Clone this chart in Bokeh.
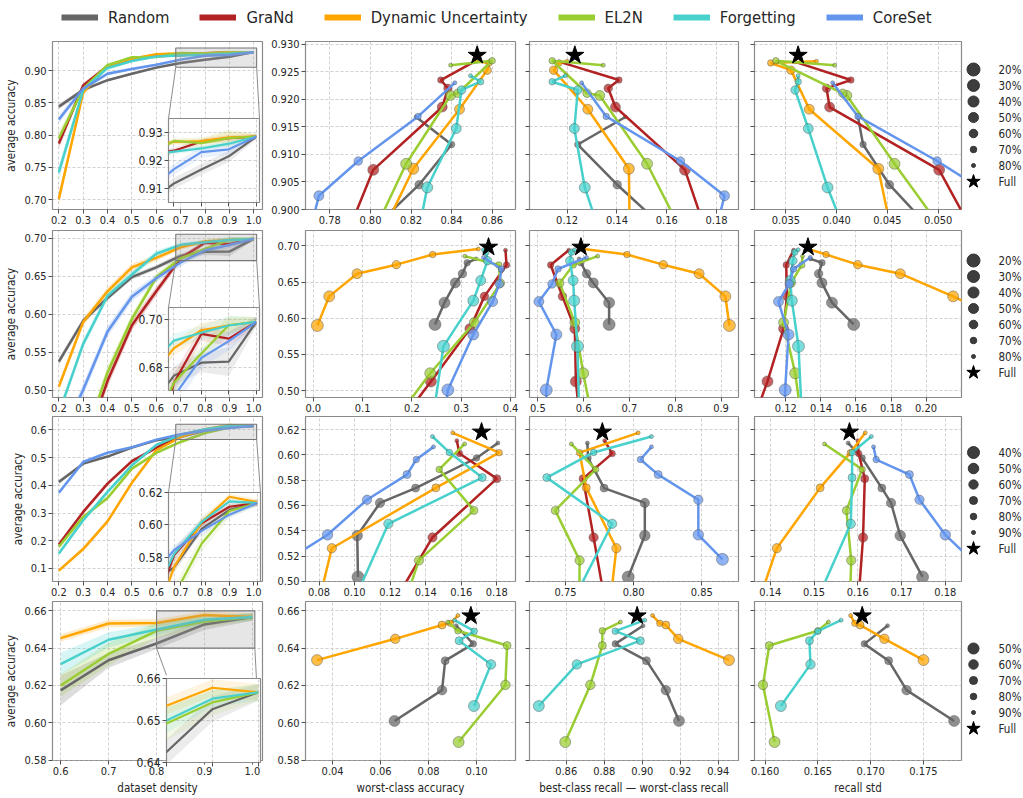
import numpy as np
from bokeh.plotting import figure
from bokeh.models import (Range1d, FixedTicker, PrintfTickFormatter, Legend, LegendItem,
                          GridBox, ColumnDataSource)
from bokeh.embed import file_html
from bokeh.resources import INLINE
from bokeh.core.properties import value

NAN = float("nan")
FONT = "DejaVu Sans Condensed, DejaVu Sans"

SERIES = ["Random", "GraNd", "Dynamic Uncertainty", "EL2N", "Forgetting", "CoreSet"]
SERIES_R4 = ["Random", "Dynamic Uncertainty", "EL2N", "Forgetting"]
COLORS = {"Random": "#666666", "GraNd": "#b22222", "Dynamic Uncertainty": "#ffa500",
          "EL2N": "#9acd32", "Forgetting": "#48d1cc", "CoreSet": "#6495ed"}

DENS_A = [0.2, 0.3, 0.4, 0.5, 0.6, 0.7, 0.8, 0.9, 1.0]
DENS_D = [0.6, 0.7, 0.8, 0.9, 1.0]

R1_CURVE = {
    "Random": [0.844, 0.870, 0.885, 0.895, 0.9045, 0.9118, 0.9168, 0.9215, 0.9285],
    "GraNd": [0.787, 0.877, 0.9072, 0.9186, 0.922, 0.9235, 0.9268, 0.928, 0.9285],
    "Dynamic Uncertainty": [0.701, 0.866, 0.9074, 0.9182, 0.9253, 0.9266, 0.9269, 0.9283, 0.9285],
    "EL2N": [0.795, 0.872, 0.9083, 0.9207, 0.9211, 0.927, 0.9262, 0.928, 0.9285],
    "Forgetting": [0.742, 0.870, 0.904, 0.9147, 0.9217, 0.9232, 0.9243, 0.926, 0.9285],
    "CoreSet": [0.824, 0.872, 0.895, 0.9025, 0.9088, 0.9169, 0.923, 0.924, 0.9285],
}
R1_STD = {
    "Random": [0.004, 0.003, 0.002, 0.002, 0.002, 0.002, 0.002, 0.002, 0.001],
    "GraNd": [0.008, 0.004, 0.002, 0.002, 0.001, 0.001, 0.001, 0.001, 0.001],
    "Dynamic Uncertainty": [0.010, 0.006, 0.003, 0.002, 0.001, 0.001, 0.001, 0.002, 0.001],
    "EL2N": [0.010, 0.004, 0.003, 0.002, 0.001, 0.001, 0.002, 0.003, 0.001],
    "Forgetting": [0.012, 0.004, 0.003, 0.002, 0.001, 0.001, 0.001, 0.001, 0.001],
    "CoreSet": [0.006, 0.004, 0.003, 0.002, 0.002, 0.002, 0.002, 0.002, 0.001],
}
R1_LABELS = ["20%", "30%", "40%", "50%", "60%", "70%", "80%"]
R1_SIZES = [13, 12, 11, 10, 8.5, 6.5, 4]
R1_ACC = {s: R1_CURVE[s][:7] for s in SERIES}
R1_WORST = {
    "Random": [0.77, 0.78, 0.79, 0.797, 0.824, 0.840, 0.8225],
    "GraNd": [0.74, 0.768, 0.8014, 0.8354, 0.8382, 0.8347, 0.851],
    "Dynamic Uncertainty": [0.70, 0.767, 0.8211, 0.8439, 0.8575, 0.8584, 0.852],
    "EL2N": [0.74, 0.771, 0.8176, 0.8395, 0.8431, 0.86, 0.8395],
    "Forgetting": [0.76, 0.81, 0.828, 0.8423, 0.8449, 0.8543, 0.8493],
    "CoreSet": [0.74, 0.755, 0.7695, 0.7746, 0.794, 0.8235, 0.8416],
}
R1_GAP = {
    "Random": [0.18, 0.175, 0.17, 0.163, 0.1401, 0.1243, 0.1434],
    "GraNd": [0.20, 0.19, 0.1673, 0.1394, 0.1365, 0.1408, 0.117],
    "Dynamic Uncertainty": [0.15, 0.146, 0.1448, 0.1283, 0.1146, 0.1167, 0.12],
    "EL2N": [0.20, 0.193, 0.1521, 0.1331, 0.128, 0.114, 0.1345],
    "Forgetting": [0.16, 0.152, 0.1271, 0.1229, 0.1243, 0.114, 0.1193],
    "CoreSet": [0.17, 0.175, 0.179, 0.1832, 0.1655, 0.1357, 0.1258],
}
R1_RSTD = {
    "Random": [0.056, 0.054, 0.052, 0.050, 0.0452, 0.0426, 0.0421],
    "GraNd": [0.065, 0.059, 0.0501, 0.0393, 0.039, 0.0414, 0.0359],
    "Dynamic Uncertainty": [0.055, 0.0488, 0.0441, 0.0373, 0.0355, 0.0335, 0.038],
    "EL2N": [0.065, 0.060, 0.0457, 0.041, 0.0406, 0.034, 0.0398],
    "Forgetting": [0.05, 0.0464, 0.0391, 0.0372, 0.0359, 0.0362, 0.0362],
    "CoreSet": [0.065, 0.062, 0.059, 0.0553, 0.0499, 0.0421, 0.0396],
}
R1_FULL = [0.928, 0.8526, 0.1231, 0.0362]

R2_CURVE = {
    "Random": [0.538, 0.5915, 0.6215, 0.6488, 0.6616, 0.6766, 0.682, 0.6824, 0.699],
    "GraNd": [0.33, 0.42, 0.5127, 0.5856, 0.6302, 0.6736, 0.694, 0.692, 0.699],
    "Dynamic Uncertainty": [0.505, 0.590, 0.6302, 0.6615, 0.674, 0.688, 0.6955, 0.6976, 0.699],
    "EL2N": [0.34, 0.43, 0.524, 0.594, 0.6485, 0.6736, 0.6858, 0.6976, 0.699],
    "Forgetting": [0.47, 0.5612, 0.6243, 0.6522, 0.6795, 0.6912, 0.6945, 0.6975, 0.699],
    "CoreSet": [0.43, 0.501, 0.5775, 0.623, 0.6474, 0.668, 0.684, 0.691, 0.699],
}
R2_STD = {
    "Random": [0.005, 0.004, 0.003, 0.003, 0.003, 0.004, 0.004, 0.006, 0.002],
    "GraNd": [0.008, 0.008, 0.008, 0.007, 0.006, 0.004, 0.003, 0.003, 0.002],
    "Dynamic Uncertainty": [0.006, 0.005, 0.005, 0.005, 0.004, 0.003, 0.003, 0.003, 0.002],
    "EL2N": [0.008, 0.008, 0.008, 0.006, 0.005, 0.004, 0.003, 0.004, 0.002],
    "Forgetting": [0.006, 0.006, 0.005, 0.005, 0.004, 0.003, 0.003, 0.004, 0.002],
    "CoreSet": [0.008, 0.008, 0.007, 0.006, 0.005, 0.005, 0.004, 0.004, 0.002],
}
R2_LABELS = ["20%", "30%", "40%", "50%", "60%", "70%", "80%"]
R2_SIZES = [13, 12, 11, 10, 8.5, 6.5, 4]
R2_ACC = {s: R2_CURVE[s][:7] for s in SERIES}
R2_WORST = {
    "Random": [NAN, 0.2467, 0.266, 0.288, 0.3024, 0.312, 0.33],
    "GraNd": [0.05, 0.136, 0.2385, 0.3175, 0.347, 0.3918, 0.3897],
    "Dynamic Uncertainty": [NAN, 0.0082, 0.0323, 0.0887, 0.1684, 0.242, 0.3347],
    "EL2N": [0.04, 0.134, 0.2371, 0.3265, 0.3794, 0.376, 0.3072],
    "Forgetting": [0.2443, 0.2639, 0.3244, 0.3395, 0.3533, 0.35, 0.345],
    "CoreSet": [0.26, 0.2729, 0.3244, 0.3636, 0.3773, 0.3814, 0.345],
}
R2_GAP = {
    "Random": [NAN, 0.6556, 0.6556, 0.6211, 0.6064, 0.594, 0.590],
    "GraNd": [0.61, 0.598, 0.583, 0.5807, 0.5536, 0.5279, 0.5675],
    "Dynamic Uncertainty": [NAN, 0.9183, 0.9095, 0.8523, 0.7738, 0.6945, 0.60],
    "EL2N": [0.66, 0.629, 0.599, 0.5807, 0.5477, 0.5771, 0.6306],
    "Forgetting": [0.59, 0.5866, 0.5793, 0.5771, 0.5697, 0.5734, 0.58],
    "CoreSet": [0.52, 0.5183, 0.5404, 0.5022, 0.5308, 0.544, 0.6064],
}
R2_RSTD = {
    "Random": [NAN, 0.1587, 0.1463, 0.1406, 0.1387, 0.1406, 0.134],
    "GraNd": [0.085, 0.0957, 0.1095, 0.1187, 0.1206, 0.1202, 0.1244],
    "Dynamic Uncertainty": [NAN, 0.25, 0.2154, 0.1853, 0.161, 0.1429, 0.133],
    "EL2N": [0.135, 0.1308, 0.1253, 0.1187, 0.123, 0.1291, 0.1295],
    "Forgetting": [0.129, 0.1272, 0.1234, 0.1225, 0.124, 0.125, 0.127],
    "CoreSet": [0.119, 0.1196, 0.1215, 0.1158, 0.1219, 0.1244, 0.1339],
}
R2_FULL = [0.6982, 0.3553, 0.594, 0.1326]

R3_CURVE = {
    "Random": [0.412, 0.478, 0.5035, 0.5362, 0.562, 0.5737, 0.5975, 0.6093, 0.6135],
    "GraNd": [0.186, 0.304, 0.406, 0.487, 0.5347, 0.5812, 0.601, 0.6112, 0.6135],
    "Dynamic Uncertainty": [0.092, 0.170, 0.27, 0.409, 0.5262, 0.5739, 0.6017, 0.6174, 0.614],
    "EL2N": [0.178, 0.286, 0.354, 0.46, 0.5166, 0.5561, 0.5885, 0.6086, 0.6135],
    "Forgetting": [0.154, 0.274, 0.376, 0.472, 0.5455, 0.582, 0.6019, 0.6145, 0.6135],
    "CoreSet": [0.373, 0.484, 0.5174, 0.5368, 0.5645, 0.5844, 0.5963, 0.6063, 0.6135],
}
R3_STD = {
    "Random": [0.008, 0.005, 0.004, 0.004, 0.003, 0.003, 0.002, 0.002, 0.002],
    "GraNd": [0.008, 0.008, 0.008, 0.007, 0.005, 0.004, 0.003, 0.002, 0.002],
    "Dynamic Uncertainty": [0.006, 0.008, 0.008, 0.007, 0.005, 0.004, 0.003, 0.002, 0.002],
    "EL2N": [0.008, 0.008, 0.008, 0.007, 0.006, 0.006, 0.005, 0.004, 0.002],
    "Forgetting": [0.008, 0.008, 0.008, 0.007, 0.005, 0.004, 0.003, 0.002, 0.002],
    "CoreSet": [0.008, 0.006, 0.005, 0.004, 0.003, 0.003, 0.003, 0.002, 0.002],
}
R3_LABELS = ["40%", "50%", "60%", "70%", "80%", "90%"]
R3_SIZES = [12, 10.5, 9.3, 8, 6.5, 4]
R3_ACC = {s: R3_CURVE[s][2:8] for s in SERIES}
R3_WORST = {
    "Random": [0.1019, 0.1015, 0.1143, 0.1343, 0.1686, 0.1806],
    "GraNd": [0.09, 0.1237, 0.1438, 0.18, 0.159, 0.1575],
    "Dynamic Uncertainty": [0.05, 0.067, 0.0872, 0.1457, 0.1813, 0.1552],
    "EL2N": [0.10, 0.1225, 0.1362, 0.1671, 0.1476, 0.1619],
    "Forgetting": [0.075, 0.0956, 0.119, 0.1718, 0.1533, 0.1438],
    "CoreSet": [0.063, 0.0848, 0.107, 0.1295, 0.1347, 0.1444],
}
R3_GAP = {
    "Random": [0.796, 0.8082, 0.8082, 0.7783, 0.7665, 0.766],
    "GraNd": [0.79, 0.7784, 0.7706, 0.7628, 0.7842, 0.7787],
    "Dynamic Uncertainty": [0.76, 0.775, 0.7873, 0.7652, 0.7603, 0.8033],
    "EL2N": [0.76, 0.76, 0.7603, 0.7424, 0.7721, 0.7542],
    "Forgetting": [0.72, 0.7495, 0.7842, 0.7362, 0.7706, 0.8131],
    "CoreSet": [0.8652, 0.8475, 0.8475, 0.818, 0.805, 0.8131],
}
R3_RSTD = {
    "Random": [0.1748, 0.1697, 0.1676, 0.1655, 0.161, 0.1578],
    "GraNd": [0.16, 0.1602, 0.1612, 0.1616, 0.1602, 0.16],
    "Dynamic Uncertainty": [0.12, 0.13, 0.1415, 0.1514, 0.1583, 0.1617],
    "EL2N": [0.158, 0.158, 0.1585, 0.1574, 0.161, 0.1524],
    "Forgetting": [0.14, 0.149, 0.1584, 0.1587, 0.1587, 0.1631],
    "CoreSet": [0.1859, 0.18, 0.1741, 0.1718, 0.1642, 0.1636],
}
R3_FULL = [0.618, 0.1714, 0.777, 0.1581]

R4_CURVE = {
    "Random": [0.6174, 0.6335, 0.6425, 0.6527, 0.6567],
    "Dynamic Uncertainty": [0.6454, 0.6532, 0.6535, 0.6578, 0.6567],
    "EL2N": [0.620, 0.6369, 0.6493, 0.6543, 0.6567],
    "Forgetting": [0.6315, 0.6445, 0.650, 0.6552, 0.6567],
}
R4_STD = {
    "Random": [0.008, 0.004, 0.003, 0.003, 0.002],
    "Dynamic Uncertainty": [0.002, 0.002, 0.002, 0.002, 0.002],
    "EL2N": [0.006, 0.006, 0.004, 0.003, 0.002],
    "Forgetting": [0.006, 0.004, 0.003, 0.002, 0.002],
}
R4_LABELS = ["50%", "60%", "70%", "80%", "90%"]
R4_SIZES = [11, 9.5, 8, 6.5, 4]
R4_ACC = {
    "Random": [0.601, 0.6175, 0.6333, 0.6423, 0.652],
    "Dynamic Uncertainty": [0.6336, 0.645, 0.6524, 0.6533, 0.6575],
    "EL2N": [0.5897, 0.6203, 0.6414, 0.6493, 0.654],
    "Forgetting": [0.609, 0.6313, 0.644, 0.6491, 0.655],
}
R4_WORST = {
    "Random": [0.0658, 0.0856, 0.0869, 0.0986, 0.0915],
    "Dynamic Uncertainty": [0.0335, 0.0661, 0.0856, 0.0891, 0.0922],
    "EL2N": [0.0925, 0.112, 0.1127, 0.0922, 0.088],
    "Forgetting": [0.0989, 0.106, 0.0927, 0.099, 0.0908],
}
R4_GAP = {
    "Random": [0.9193, 0.9124, 0.9022, 0.8858, 0.9004],
    "Dynamic Uncertainty": [0.9456, 0.9189, 0.9124, 0.9092, 0.9054],
    "EL2N": [0.8595, 0.8727, 0.879, 0.879, 0.8885],
    "Forgetting": [0.8456, 0.8656, 0.899, 0.8858, 0.9013],
}
R4_RSTD = {
    "Random": [0.1779, 0.1734, 0.1717, 0.1694, 0.1716],
    "Dynamic Uncertainty": [0.175, 0.1713, 0.169, 0.1685, 0.1681],
    "EL2N": [0.1609, 0.1598, 0.1604, 0.165, 0.166],
    "Forgetting": [0.1615, 0.1643, 0.1642, 0.165, 0.1672],
}
R4_FULL = [0.6573, 0.0976, 0.8973, 0.1692]

Y_LABEL = "average accuracy"
X_LABELS = ["dataset density", "worst-class accuracy",
            "best-class recall \u2014 worst-class recall", "recall std"]
FULL_LABEL = "Full"

DENS_TICKS = [0.2, 0.3, 0.4, 0.5, 0.6, 0.7, 0.8, 0.9, 1.0]
XTICKS = [
    [DENS_TICKS, [0.78, 0.80, 0.82, 0.84, 0.86], [0.12, 0.14, 0.16, 0.18], [0.035, 0.040, 0.045, 0.050]],
    [DENS_TICKS, [0.0, 0.1, 0.2, 0.3, 0.4], [0.5, 0.6, 0.7, 0.8, 0.9], [0.12, 0.14, 0.16, 0.18, 0.20]],
    [DENS_TICKS, [0.08, 0.10, 0.12, 0.14, 0.16, 0.18], [0.75, 0.80, 0.85], [0.14, 0.15, 0.16, 0.17, 0.18]],
    [[0.6, 0.7, 0.8, 0.9, 1.0], [0.04, 0.06, 0.08, 0.10], [0.86, 0.88, 0.90, 0.92, 0.94], [0.160, 0.165, 0.170, 0.175]],
]
XFMT = [["%.1f", "%.2f", "%.2f", "%.3f"], ["%.1f", "%.1f", "%.1f", "%.2f"],
        ["%.1f", "%.2f", "%.2f", "%.2f"], ["%.1f", "%.2f", "%.2f", "%.3f"]]
YTICKS = [
    [[0.70, 0.75, 0.80, 0.85, 0.90], [0.900, 0.905, 0.910, 0.915, 0.920, 0.925, 0.930]],
    [[0.50, 0.55, 0.60, 0.65, 0.70], [0.50, 0.55, 0.60, 0.65, 0.70]],
    [[0.1, 0.2, 0.3, 0.4, 0.5, 0.6], [0.50, 0.52, 0.54, 0.56, 0.58, 0.60, 0.62]],
    [[0.58, 0.60, 0.62, 0.64, 0.66], [0.58, 0.60, 0.62, 0.64, 0.66]],
]
YFMT = [["%.2f", "%.3f"], ["%.2f", "%.2f"], ["%.1f", "%.2f"], ["%.2f", "%.2f"]]

# ---------------- layout: every figure shares one full-page canvas ----------------
CANVAS_W, CANVAS_H = 1022, 797
FRAME_LEFT = [52, 305, 529, 754]
FRAME_WIDTH = [210, 210, 209, 207]
FRAME_TOP = [41, 230, 416, 601]
FRAME_HEIGHT = [168, 167, 165, 166]
XR = [
    [(0.174, 1.036), (0.768, 0.8715), (0.1049, 0.1888), (0.0319, 0.0523)],
    [(0.174, 1.036), (-0.0158, 0.410), (0.4817, 0.9382), (0.1021, 0.2202)],
    [(0.174, 1.036), (0.0724, 0.1905), (0.7235, 0.877), (0.1364, 0.1837)],
    [(0.583, 1.021), (0.0287, 0.1162), (0.8407, 0.9506), (0.159, 0.1786)],
]
YR = [
    [(0.6845, 0.945), (0.9, 0.9305)],
    [(0.4908, 0.710), (0.4905, 0.7212)],
    [(0.053, 0.648), (0.4999, 0.6303)],
    [(0.5798, 0.665), (0.5798, 0.665)],
]
INSETS = [
    dict(fl=168, ft=118, fw=91, fh=84, xr=(0.68, 1.012), yr=(0.905, 0.935), yt=[0.91, 0.92, 0.93], xt=[0.7, 0.8, 0.9, 1.0], right="UR"),
    dict(fl=168, ft=307, fw=91, fh=83, xr=(0.68, 1.012), yr=(0.6704, 0.705), yt=[0.68, 0.70], xt=[0.7, 0.8, 0.9, 1.0], right="UR"),
    dict(fl=168, ft=492, fw=92, fh=89, xr=(0.68, 1.012), yr=(0.565, 0.62), yt=[0.58, 0.60, 0.62], xt=[0.7, 0.8, 0.9, 1.0], right="UR"),
    dict(fl=166, ft=678, fw=94, fh=84, xr=(0.8, 1.005), yr=(0.64, 0.66), yt=[0.64, 0.65, 0.66], xt=[0.8, 0.9, 1.0], right="LR"),
]
SIZE_LEG_LEFT, SIZE_LEG_WIDTH, SIZE_LEG_STEP = 961, 61, 16
SIZE_LEG_TOP = [61, 252, 444, 640]
TOP_LEG_LEFT, TOP_LEG_TOP = 61, 7

ROWS = [
    dict(series=SERIES, dens=DENS_A, curve=R1_CURVE, std=R1_STD, acc=R1_ACC, metrics=[R1_WORST, R1_GAP, R1_RSTD], full=R1_FULL, labels=R1_LABELS, sizes=R1_SIZES),
    dict(series=SERIES, dens=DENS_A, curve=R2_CURVE, std=R2_STD, acc=R2_ACC, metrics=[R2_WORST, R2_GAP, R2_RSTD], full=R2_FULL, labels=R2_LABELS, sizes=R2_SIZES),
    dict(series=SERIES, dens=DENS_A, curve=R3_CURVE, std=R3_STD, acc=R3_ACC, metrics=[R3_WORST, R3_GAP, R3_RSTD], full=R3_FULL, labels=R3_LABELS, sizes=R3_SIZES),
    dict(series=SERIES_R4, dens=DENS_D, curve=R4_CURVE, std=R4_STD, acc=R4_ACC, metrics=[R4_WORST, R4_GAP, R4_RSTD], full=R4_FULL, labels=R4_LABELS, sizes=R4_SIZES),
]

FRAME_COLOR = "#8a8a8a"
TEXT_COLOR = "#262626"
GRID_COLOR = "#c4c4c4"


def style_axis(ax, ticks, fmt, hide_labels=False, font_size="11px"):
    ax.ticker = FixedTicker(ticks=ticks)
    ax.formatter = PrintfTickFormatter(format=fmt)
    if hide_labels:
        ax.major_label_overrides = {t: "" for t in ticks}
    ax.axis_line_color = None
    ax.major_tick_line_color = "#505050"
    ax.major_tick_out = 4
    ax.major_tick_in = 0
    ax.minor_tick_line_color = None
    ax.major_label_text_font = FONT
    ax.major_label_text_font_size = font_size
    ax.major_label_text_color = TEXT_COLOR
    ax.major_label_standoff = 2
    ax.axis_label_text_font = FONT
    ax.axis_label_text_font_size = "11.5px"
    ax.axis_label_text_font_style = "normal"
    ax.axis_label_text_color = TEXT_COLOR
    ax.axis_label_standoff = 3


def canvas_fig(fl, ft, fw, fh, xr, yr, **kw):
    """A figure covering the whole page whose data frame sits at (fl, ft, fw, fh)."""
    p = figure(width=CANVAS_W, height=CANVAS_H, x_range=Range1d(*xr), y_range=Range1d(*yr),
               output_backend="svg", toolbar_location=None,
               min_border_left=fl, min_border_top=ft,
               min_border_right=CANVAS_W - fl - fw, min_border_bottom=CANVAS_H - ft - fh, **kw)
    p.frame_align = False
    p.margin = (0, 0, 0, 0)
    p.border_fill_alpha = 0
    return p


def plot_fig(fl, ft, fw, fh, xr, yr):
    p = canvas_fig(fl, ft, fw, fh, xr, yr)
    p.background_fill_color = "white"
    p.outline_line_color = FRAME_COLOR
    p.outline_line_width = 1.2
    p.grid.grid_line_color = GRID_COLOR
    p.grid.grid_line_dash = "3 2"
    p.grid.grid_line_width = 0.8
    return p


children = []
insets = []
legends = []

for r, row in enumerate(ROWS):
    ft, fh = FRAME_TOP[r], FRAME_HEIGHT[r]
    # ---- column 1: accuracy vs dataset density ----
    fl, fw = FRAME_LEFT[0], FRAME_WIDTH[0]
    p = plot_fig(fl, ft, fw, fh, XR[r][0], YR[r][0])
    style_axis(p.xaxis[0], XTICKS[r][0], XFMT[r][0])
    style_axis(p.yaxis[0], YTICKS[r][0], YFMT[r][0])
    p.yaxis[0].axis_label = Y_LABEL
    if r == 3:
        p.xaxis[0].axis_label = X_LABELS[0]
    x = np.array(row["dens"])
    for s in row["series"]:
        y = np.array(row["curve"][s]); sd = np.array(row["std"][s])
        p.varea(x=x, y1=y - sd, y2=y + sd, fill_color=COLORS[s], fill_alpha=0.22)
    for s in row["series"]:
        p.line(x, np.array(row["curve"][s]), line_color=COLORS[s], line_width=2.5)

    ins = INSETS[r]
    ixr, iyr = ins["xr"], ins["yr"]
    p.quad(left=[ixr[0]], right=[ixr[1]], bottom=[iyr[0]], top=[iyr[1]],
           fill_color="#9a9a9a", fill_alpha=0.25, line_color="#777777", line_width=1.1)

    def to_main(px, py, fl=fl, ft=ft, fw=fw, fh=fh, xr=XR[r][0], yr=YR[r][0]):
        return (xr[0] + (px - fl) / fw * (xr[1] - xr[0]),
                yr[1] - (py - ft) / fh * (yr[1] - yr[0]))

    ul = to_main(ins["fl"], ins["ft"])
    if ins["right"] == "UR":
        rc = to_main(ins["fl"] + ins["fw"], ins["ft"])
    else:
        rc = to_main(ins["fl"] + ins["fw"], ins["ft"] + ins["fh"])
    p.segment(x0=[ixr[0], ixr[1]], y0=[iyr[0], iyr[0]], x1=[ul[0], rc[0]], y1=[ul[1], rc[1]],
              line_color="#8c8c8c", line_width=1)
    children.append(p)

    # inset zoom
    q = plot_fig(ins["fl"], ins["ft"], ins["fw"], ins["fh"], ixr, iyr)
    style_axis(q.xaxis[0], ins["xt"], "%.1f", hide_labels=True)
    style_axis(q.yaxis[0], ins["yt"], "%.2f", font_size="12px")
    for s in row["series"]:
        y = np.array(row["curve"][s]); sd = np.array(row["std"][s])
        q.varea(x=x, y1=y - sd, y2=y + sd, fill_color=COLORS[s], fill_alpha=0.12)
    for s in row["series"]:
        q.line(x, np.array(row["curve"][s]), line_color=COLORS[s], line_width=2.2)
    insets.append(q)

    # ---- columns 2-4: accuracy vs fairness metrics ----
    for c in range(1, 4):
        fl, fw = FRAME_LEFT[c], FRAME_WIDTH[c]
        p = plot_fig(fl, ft, fw, fh, XR[r][c], YR[r][1])
        style_axis(p.xaxis[0], XTICKS[r][c], XFMT[r][c])
        style_axis(p.yaxis[0], YTICKS[r][1], YFMT[r][1], hide_labels=(c > 1))
        if r == 3:
            p.xaxis[0].axis_label = X_LABELS[c]
        metric = row["metrics"][c - 1]
        for s in row["series"]:
            src = ColumnDataSource(dict(x=np.array(metric[s], dtype=float),
                                        y=np.array(row["acc"][s], dtype=float),
                                        size=np.array(row["sizes"], dtype=float)))
            p.line("x", "y", source=src, line_color=COLORS[s], line_width=2.5)
            p.scatter("x", "y", size="size", source=src, fill_color=COLORS[s], fill_alpha=0.72,
                      line_color="#505050", line_alpha=0.55, line_width=0.8)
        p.scatter([row["full"][c]], [row["full"][0]], marker="star", size=19,
                  fill_color="black", line_color="black")
        children.append(p)

    # ---- marker-size legend ----
    n = len(row["labels"]) + 1
    lg = canvas_fig(SIZE_LEG_LEFT, SIZE_LEG_TOP[r], SIZE_LEG_WIDTH, SIZE_LEG_STEP * n,
                    (-12, SIZE_LEG_WIDTH - 12), (n - 0.5, -0.5),
                    x_axis_type=None, y_axis_type=None)
    lg.background_fill_alpha = 0
    lg.outline_line_color = None
    idx = list(range(n - 1))
    lg.scatter([0] * (n - 1), idx, size=row["sizes"], fill_color="#333333", fill_alpha=0.95,
               line_color="#333333")
    lg.scatter([0], [n - 1], marker="star", size=14, fill_color="black", line_color="black")
    lg.text([0] * n, list(range(n)), text=row["labels"] + [FULL_LABEL], x_offset=25,
            text_font=value(FONT), text_font_size="11.5px", text_baseline="middle",
            text_color=TEXT_COLOR)
    legends.append(lg)

# ---- method legend on top ----
top = canvas_fig(TOP_LEG_LEFT, TOP_LEG_TOP, CANVAS_W - TOP_LEG_LEFT - 2, 24, (0, 1), (0, 1),
                 x_axis_type=None, y_axis_type=None)
top.background_fill_alpha = 0
top.outline_line_color = None
items = []
for s in SERIES:
    rr = top.line(x=[0.0, 0.0], y=[-5.0, -5.0], line_color=COLORS[s], line_width=6)
    items.append(LegendItem(label=s, renderers=[rr]))
leg = Legend(items=items, orientation="horizontal", location="top_left", glyph_width=37,
             glyph_height=20, label_height=20, label_standoff=10, spacing=30, padding=0,
             margin=0, border_line_color=None, background_fill_alpha=0,
             label_text_font=FONT, label_text_font_size="16.5px", label_text_color=TEXT_COLOR)
top.add_layout(leg)

all_models = children + insets + legends + [top]
grid = GridBox(children=[(m, 0, 0) for m in all_models])

open("out.html", "w").write(file_html(grid, INLINE, "chart"))
